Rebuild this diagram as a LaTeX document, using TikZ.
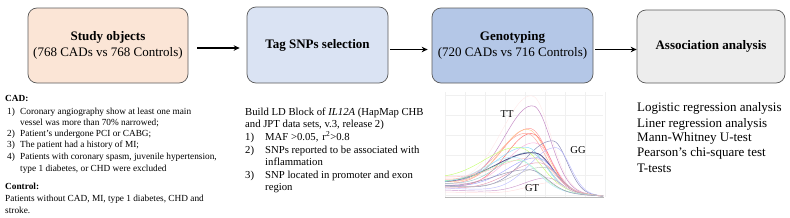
\documentclass[tikz,border=0pt]{standalone}
\usepackage{fontspec}
\setmainfont{Liberation Serif}
\usetikzlibrary{arrows.meta}
\definecolor{peach}{HTML}{FBE5D6}
\definecolor{lblue}{HTML}{DAE3F3}
\definecolor{mblue}{HTML}{B4C7E7}
\definecolor{lgray}{HTML}{EDEDED}
\definecolor{boxline}{HTML}{5A5A5A}
\tikzset{
  box/.style={draw=boxline, line width=0.7pt, rounded corners=9pt, inner sep=0pt, align=center, font=\fontsize{13}{16}\selectfont},
  arr/.style={-{Stealth[length=6pt,width=5.5pt]}, line width=1.3pt, black},
  smalltxt/.style={anchor=base west, inner sep=0pt, font=\fontsize{9.3}{11}\selectfont},
  midtxt/.style={anchor=base west, inner sep=0pt, font=\fontsize{10.7}{13}\selectfont},
  bigtxt/.style={anchor=base west, inner sep=0pt, font=\fontsize{13}{15}\selectfont},
  gtlabel/.style={inner sep=0pt, font=\fontsize{10.5}{12}\selectfont},
  gridline/.style={draw=gray!12, line width=0.3pt}
}
\begin{document}
\begin{tikzpicture}[x=1pt,y=-1pt]
\useasboundingbox (0,0) rectangle (790,217);
% boxes
\node[box, fill=peach, minimum width=160pt, minimum height=75pt] (b1) at (108,45.5) {\textbf{Study objects}\\(768 CADs vs 768 Controls)};
\node[box, fill=lblue, minimum width=141pt, minimum height=76pt] (b2) at (317.5,45) {\textbf{Tag SNPs selection}};
\node[box, fill=mblue, minimum width=161pt, minimum height=75pt] (b3) at (512.5,45.5) {\textbf{Genotyping}\\(720 CADs vs 716 Controls)};
\node[box, fill=lgray, minimum width=148pt, minimum height=73pt] (b4) at (711,46.5) {\textbf{Association analysis}};
% arrows
\coordinate (ya) at (0,48);
\coordinate (yb) at (0,49.5);
\draw[arr, shorten <=9pt, shorten >=7pt] (b1.east |- ya) -- (b2.west |- ya);
\draw[arr, shorten <=2pt, shorten >=4pt] (b2.east |- yb) -- (b3.west |- yb);
\draw[arr, shorten <=2pt] (b3.east |- yb) -- (b4.west |- yb);
% left text
\node[smalltxt] (cad) at (5,101) {\textbf{CAD:}};
\node[smalltxt] (c1n) at (7,114) {1)};
\node[smalltxt] (c1) at (20,114) {Coronary angiography show at least one main};
\node[smalltxt] (c1b) at (20,125.5) {vessel was more than 70\% narrowed;};
\node[smalltxt] (c2n) at (7,136.5) {2)};
\node[smalltxt] (c2) at (20,136.5) {Patient's undergone PCI or CABG;};
\node[smalltxt] (c3n) at (7,147) {3)};
\node[smalltxt] (c3) at (20,147) {The patient had a history of MI;};
\node[smalltxt] (c4n) at (7,159.5) {4)};
\node[smalltxt] (c4) at (20,159.5) {Patients with coronary spasm, juvenile hypertension,};
\node[smalltxt] (c4b) at (20,171) {type 1 diabetes, or CHD were excluded};
\node[smalltxt] (ctl) at (5,189) {\textbf{Control:}};
\node[smalltxt] (ct1) at (5,201) {Patients without CAD, MI, type 1 diabetes, CHD and};
\node[smalltxt] (ct2) at (5,213) {stroke.};
% middle text
\node[midtxt] (m1) at (245,115.5) {Build LD Block of \textit{IL12A} (HapMap CHB};
\node[midtxt] (m2) at (245,127) {and JPT data sets, v.3, release 2)};
\node[midtxt] (m3n) at (245,140) {1)};
\node[midtxt] (m3) at (265,140) {MAF >0.05,\hspace{4pt}r\textsuperscript{2}>0.8};
\node[midtxt] (m4n) at (245,153) {2)};
\node[midtxt] (m4) at (265,153) {SNPs reported to be associated with};
\node[midtxt] (m4b) at (265,165) {inflammation};
\node[midtxt] (m5n) at (245,178.5) {3)};
\node[midtxt] (m5) at (265,178.5) {SNP located in promoter and exon};
\node[midtxt] (m5b) at (265,190.5) {region};
% right text
\node[bigtxt] (r1) at (637,111.5) {Logistic regression analysis};
\node[bigtxt] (r2) at (637,127) {Liner regression analysis};
\node[bigtxt] (r3) at (637,141.5) {Mann-Whitney U-test};
\node[bigtxt] (r4) at (637,156.5) {Pearson's chi-square test};
\node[bigtxt] (r5) at (637,172) {T-tests};
% chart grid
\foreach \gx in {445,465,...,605} { \draw[gridline] (\gx,92) -- (\gx,197); }
\foreach \gy in {95,115,...,195} { \draw[gridline] (445,\gy) -- (603,\gy); }
\draw[gray!55, line width=0.6pt] (445,197.5) -- (604,197.5);
% melt curves
\foreach \L/\h/\m/\sl/\sr/\c/\w in {
  14/94/532/42/26/pink!35/0.4,
  14/84/533/40/25/violet!45/0.5,
  12/62/530/40/26/red!40/0.45,
  14/60/528/38/27/orange!45/0.45,
  10/58/532/37/25/red!45!pink/0.45,
  16/55/527/40/27/orange!30!red!40/0.45,
  12/48/535/39/25/magenta!30/0.45,
  10/52/553/40/20/blue!40!black!45/0.5,
  8/46/556/37/20/blue!25/0.45,
  14/42/527/44/26/cyan!45/0.45,
  12/38/530/42/26/teal!40/0.45,
  16/40/520/50/30/green!40!yellow!55/0.45,
  12/38/535/55/25/blue!35!black!65/0.9,
  10/34/538/44/24/blue!35/0.45,
  8/30/540/44/24/purple!40/0.45,
  10/25/545/42/22/gray!50/0.45,
  6/16/548/34/20/violet!40/0.45,
  4/12/552/34/20/pink!50/0.45,
  14/28/520/44/28/green!30/0.45,
  12/32/515/44/30/cyan!30/0.45,
  9/22/530/50/25/blue!25!black!40/0.5,
  18/30/535/50/25/red!25/0.4}
{
  \draw[\c, line width=\w] plot[smooth, domain=445:603, samples=45]
    (\x, {196 - \L*(1-(\x-445)/158) - \h*exp(-((\x-\m)/(\x<\m ? \sl : \sr))^2)});
}
\node[gtlabel] (tt) at (507,114) {TT};
\node[gtlabel] (gg) at (578,150) {GG};
\node[gtlabel] (gt) at (532,188) {GT};
\end{tikzpicture}
\end{document}
